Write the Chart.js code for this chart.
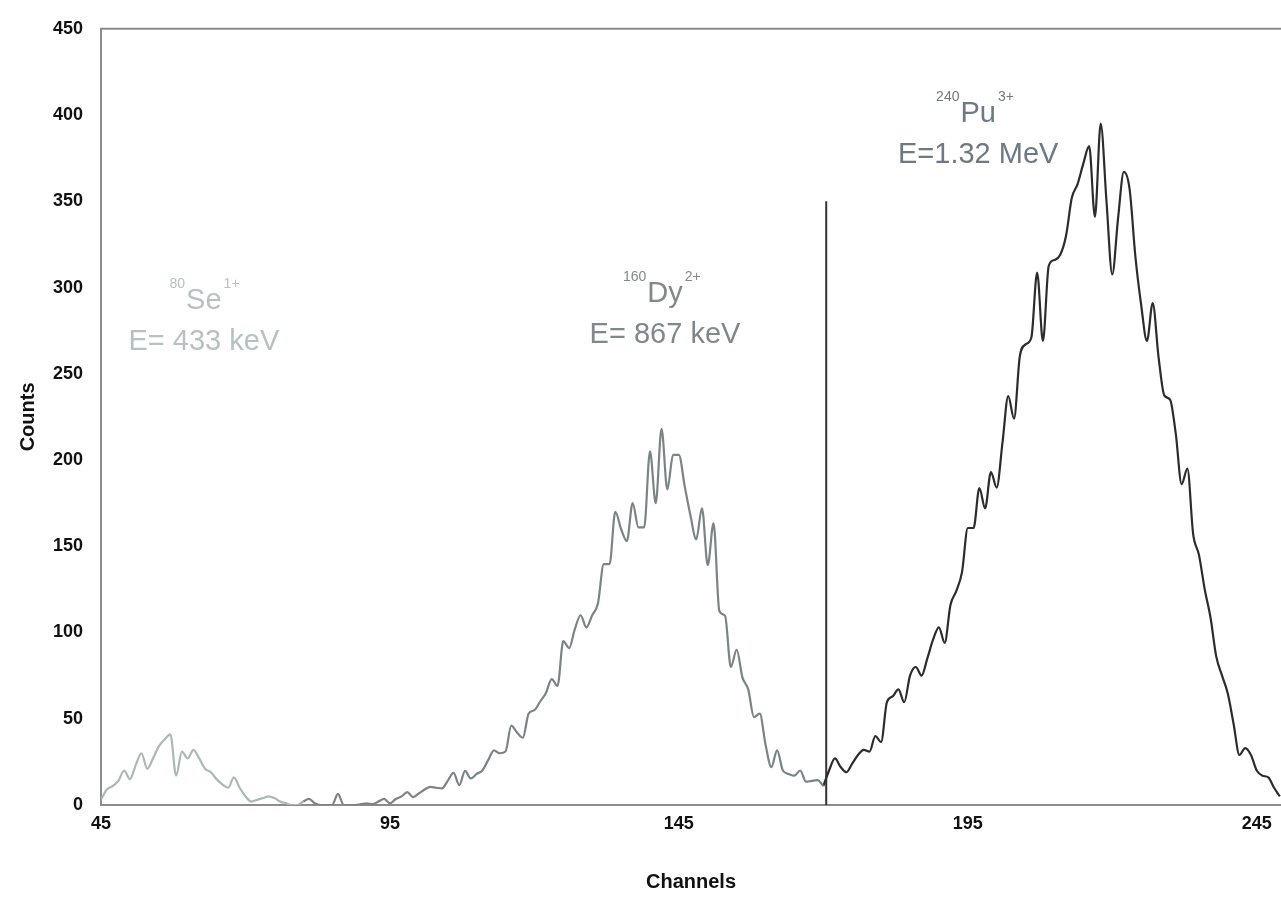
<!DOCTYPE html>
<html lang="en">
<head>
<meta charset="UTF-8">
<title>Counts vs Channels</title>
<script src="https://cdn.jsdelivr.net/npm/chart.js"></script>
<style>
    body {
        margin: 0;
        background: #ffffff;
    }

    .chart-box {
        width: 1281px;
        height: 903px;
    }
</style>
</head>
<body>
<div class="chart-box">
    <canvas id="spectrumChart" width="1281" height="903"></canvas>
</div>

<script>
    // x axis ticks and y axis ticks
    const xTickValues = [45, 95, 145, 195, 245];
    const yTickMax = 450;

    // 80Se 1+ counts, one value per channel starting at seStart
    const seStart = 45;
    const seCounts = [3, 9, 11, 14, 20, 15, 23, 30, 21, 27, 34, 38, 41, 17, 31, 27, 32, 27, 21, 19,
        15, 12, 10, 16, 10, 5, 2, 3, 4, 5, 4, 2, 1, 0, 0, 2];

    // 160Dy 2+ counts
    const dyStart = 80;
    const dyCounts = [2, 3.5, 1, 0, 0, 0, 6.5, 0, 0, 0, 0.5, 1, 0.5, 2, 3.5, 1, 3.5, 5, 7.5, 4.6,
        6.7, 9, 10.5, 10, 9.6, 14, 18.6, 11.5, 19.8, 15.4, 18, 20, 26, 31.7, 30, 31, 46, 42, 39, 53,
        55, 60, 65, 73, 69, 95, 91, 102, 110, 103, 110, 117, 139.6, 139.6, 170, 160, 153, 175, 161, 161,
        205, 175, 218, 183, 203, 203, 185, 168, 154, 172, 139, 163.5, 112.5, 109.6, 80, 90, 74, 67, 51, 53,
        35, 22, 31.7, 20, 18, 17, 20, 13.5, 14, 14.4, 11];

    // 240Pu 3+ counts
    const puStart = 170;
    const puCounts = [11, 20, 27, 22, 19, 24, 29, 32, 31, 40, 36.5, 59.6, 63, 67, 59.6, 75, 80, 75, 85, 96,
        103, 94, 116, 124, 135, 160.6, 160.6, 183.7, 172, 193, 184, 210, 237, 224, 260, 267, 271, 308.7, 269, 312.5,
        316, 319, 330, 352, 360, 372, 382, 341, 395, 350, 307.6, 340, 367, 357, 318, 290, 269, 291, 260, 237.5,
        235, 215, 186, 195, 157, 145, 125, 108.7, 86, 75, 64.5, 47, 29, 33, 29, 20, 17, 16, 10, 5];

    // vertical marker line
    const markerChannel = 170.5;
    const markerCounts = [0, 350];

    // isotope labels
    const isotopeLabels = [
        { mass: '80', symbol: 'Se', charge: '1+', energy: 'E= 433 keV', channel: 62.8, counts: 264, color: '#b7c2c0' },
        { mass: '160', symbol: 'Dy', charge: '2+', energy: 'E= 867 keV', channel: 142.6, counts: 268, color: '#7f898b' },
        { mass: '240', symbol: 'Pu', charge: '3+', energy: 'E=1.32 MeV', channel: 196.8, counts: 372, color: '#6e7983' }
    ];

    function toPoints(start, values) {
        return values.map((v, i) => ({ x: start + i, y: v }));
    }

    const FONT = "'Liberation Sans', Arial, sans-serif";

    // frame around the plot area (left, top, bottom)
    const framePlugin = {
        id: 'frame',
        beforeDatasetsDraw(chart) {
            const { ctx, chartArea: a } = chart;
            ctx.save();
            ctx.strokeStyle = '#8c8c8c';
            ctx.lineWidth = 2;
            ctx.beginPath();
            ctx.moveTo(a.right, a.top);
            ctx.lineTo(a.left, a.top);
            ctx.lineTo(a.left, a.bottom);
            ctx.lineTo(a.right, a.bottom);
            ctx.stroke();
            ctx.restore();
        }
    };

    // isotope / energy labels, anchored in data coordinates
    const labelPlugin = {
        id: 'isotopes',
        afterDatasetsDraw(chart) {
            const { ctx, scales } = chart;
            ctx.save();
            isotopeLabels.forEach(l => {
                const cx = scales.x.getPixelForValue(l.channel);
                const by = scales.y.getPixelForValue(l.counts);
                ctx.fillStyle = l.color;
                ctx.textBaseline = 'alphabetic';

                ctx.font = '29px ' + FONT;
                ctx.textAlign = 'center';
                ctx.fillText(l.energy, cx, by);

                const symY = by - 41;
                ctx.fillText(l.symbol, cx, symY);
                const half = ctx.measureText(l.symbol).width / 2;

                ctx.font = '14px ' + FONT;
                ctx.textAlign = 'right';
                ctx.fillText(l.mass, cx - half - 1, symY - 21);
                ctx.textAlign = 'left';
                ctx.fillText(l.charge, cx + half + 2, symY - 21);
            });
            ctx.restore();
        }
    };

    const lineStyle = {
        pointRadius: 0,
        borderWidth: 2.2,
        cubicInterpolationMode: 'monotone',
        borderJoinStyle: 'round',
        fill: false
    };

    new Chart(document.getElementById('spectrumChart'), {
        type: 'line',
        data: {
            datasets: [
                Object.assign({ label: '80Se 1+', data: toPoints(seStart, seCounts), borderColor: '#a9b9b3' }, lineStyle),
                Object.assign({ label: '160Dy 2+', data: toPoints(dyStart, dyCounts), borderColor: '#7a8484' }, lineStyle),
                Object.assign({ label: '240Pu 3+', data: toPoints(puStart, puCounts), borderColor: '#2c2c2c' }, lineStyle),
                Object.assign({}, lineStyle, {
                    label: 'marker',
                    data: markerCounts.map(v => ({ x: markerChannel, y: v })),
                    borderColor: '#333333',
                    borderWidth: 2,
                    cubicInterpolationMode: 'default',
                    tension: 0
                })
            ]
        },
        options: {
            responsive: false,
            animation: false,
            layout: { padding: { top: 25, right: 0, bottom: 0, left: 0 } },
            plugins: {
                legend: { display: false },
                tooltip: { enabled: false }
            },
            scales: {
                x: {
                    type: 'linear',
                    min: 45,
                    max: 249.2,
                    afterBuildTicks(scale) {
                        scale.ticks = xTickValues.map(v => ({ value: v }));
                    },
                    afterFit(scale) { scale.height = 98; },
                    grid: { display: false, drawTicks: false },
                    border: { display: false },
                    ticks: {
                        padding: 8,
                        color: '#111111',
                        font: { family: FONT, size: 18, weight: 'bold' }
                    },
                    title: {
                        display: true,
                        text: 'Channels',
                        color: '#111111',
                        padding: { top: 0, bottom: 9 },
                        font: { family: FONT, size: 20, weight: 'bold' }
                    }
                },
                y: {
                    min: 0,
                    max: yTickMax,
                    afterFit(scale) { scale.width = 101; },
                    grid: { display: false, drawTicks: false },
                    border: { display: false },
                    ticks: {
                        stepSize: 50,
                        padding: 18,
                        color: '#111111',
                        font: { family: FONT, size: 18, weight: 'bold' }
                    },
                    title: {
                        display: true,
                        text: 'Counts',
                        color: '#111111',
                        padding: { top: 16, bottom: 0 },
                        font: { family: FONT, size: 20, weight: 'bold' }
                    }
                }
            }
        },
        plugins: [framePlugin, labelPlugin]
    });
</script>
</body>
</html>
